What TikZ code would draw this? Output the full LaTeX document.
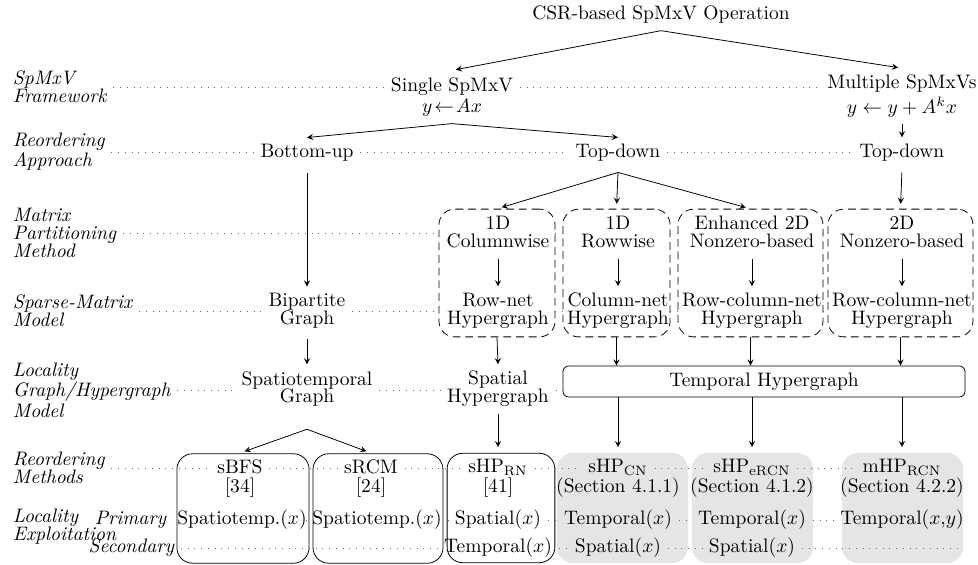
\documentclass[tikz,border=0pt]{standalone}
\usepackage{amsmath}
\usepackage{tikz}
\usetikzlibrary{arrows}

\begin{document}
\begin{tikzpicture}[>=stealth, x=0.018cm, y=-0.018cm,
    every node/.style={font=\fontsize{10}{9.2}\selectfont, align=center}]
			\tikzstyle{rowlab} = [anchor=west, align=left, font=\fontsize{10}{9.2}\selectfont\itshape]
			\tikzstyle{sublab} = [anchor=east, font=\fontsize{10}{9.2}\selectfont\itshape]
			\tikzstyle{methbox} = [draw, rounded corners=8pt, inner sep=0pt, minimum height=1.97cm]
			\tikzstyle{ourbox} = [fill=black!10, rounded corners=8pt, inner sep=0pt, minimum height=1.98cm]
			\tikzstyle{partbox} = [draw, dash pattern=on 4pt off 2.5pt, rounded corners=8pt, inner sep=0pt, minimum height=2.3cm]
			\tikzstyle{rowline} = [black!60, line width=0.45pt, dash pattern=on 0.45pt off 3pt]
			\tikzstyle{fromtxt} = [shorten <=2pt]
			\tikzstyle{tobox} = [shorten >=2.5pt]

			\useasboundingbox (0,0) rectangle (978,564);

			% boxes
			\path
			node[methbox, minimum width=2.38cm] (bfsbox) at (243,508.5) {}
			node[methbox, minimum width=2.34cm] (rcmbox) at (378,508.5) {}
			node[methbox, minimum width=1.94cm] (rnbox) at (501,508) {}
			node[ourbox, minimum width=2.36cm] (cnbox) at (622.5,508) {}
			node[ourbox, minimum width=2.18cm] (ercnbox) at (752.5,508) {}
			node[ourbox, minimum width=2.18cm] (mhpbox) at (902.5,508) {}
			node[partbox, minimum width=2.09cm] (cwbox) at (497,273) {}
			node[partbox, minimum width=1.93cm] (rwbox) at (616.5,273) {}
			node[partbox, minimum width=2.61cm] (enbox) at (750.5,273) {}
			node[partbox, minimum width=2.61cm] (nzbox) at (900.5,273) {}
			node[draw, rounded corners=3pt, minimum width=7.24cm, minimum height=0.56cm] (thyp) at (764,381.5) {Temporal Hypergraph};

			% row labels
			\path
			node[rowlab] (labfw) at (6,87) {SpMxV\\Framework}
			node[rowlab] (labap) at (6,152) {Reordering\\Approach}
			node[rowlab] (labpart) at (6,233) {Matrix\\Partitioning\\Method}
			node[rowlab] (labmod) at (6,311) {Sparse-Matrix\\Model}
			node[rowlab] (labloc) at (6,390) {Locality\\Graph/Hypergraph\\Model}
			node[rowlab] (labmeth) at (6,468) {Reordering\\Methods}
			node[rowlab] (labexp) at (6,527) {Locality\\Exploitation}
			node[sublab] (labpri) at (173,520) {Primary}
			node[sublab] (labsec) at (181,548) {Secondary};

			% tree
			\path
			node (op) at (661,15) {CSR-based SpMxV Operation}
			node (single) at (452,97) {Single SpMxV\\[2pt]$y\!\leftarrow\!Ax$}
			node (multi) at (902,96) {Multiple SpMxVs\\[1pt]$y\leftarrow y+A^kx$}
			node (bu) at (307,153) {Bottom-up}
			node (td) at (618,153) {Top-down}
			node (tdm) at (902,153) {Top-down}
			node (cwp) at (498,232) {1D\\Columnwise}
			node (rwp) at (618,232) {1D\\Rowwise}
			node (enp) at (752,232) {Enhanced 2D\\Nonzero-based}
			node (nzp) at (902,232) {2D\\Nonzero-based}
			node (bip) at (307,311) {Bipartite\\Graph}
			node (cwm) at (498,311) {Row-net\\Hypergraph}
			node (rwm) at (618,311) {Column-net\\Hypergraph}
			node (enm) at (752,311) {Row-column-net\\Hypergraph}
			node (nzm) at (902,311) {Row-column-net\\Hypergraph}
			node (st) at (307,389) {Spatiotemporal\\Graph}
			node (sp) at (498,389) {Spatial\\Hypergraph};

			% reordering methods
			\path
			node (bfs) at (240,467) {sBFS}
			node (bfsref) at (240,488) {[34]}
			node (bfspri) at (242,520) {Spatiotemp.$(x)$}
			node (rcm) at (371,467) {sRCM}
			node (rcmref) at (371,488) {[24]}
			node (rcmpri) at (377,520) {Spatiotemp.$(x)$}
			node (rn) at (498,467) {sHP$_{\mathrm{RN}}$}
			node (rnref) at (498,488) {[41]}
			node (rnpri) at (498,520) {Spatial$(x)$}
			node (rnsec) at (498,548) {Temporal$(x)$}
			node (cn) at (618,467) {sHP$_{\mathrm{CN}}$}
			node (cnref) at (618,488) {(Section 4.1.1)}
			node (cnpri) at (618,520) {Temporal$(x)$}
			node (cnsec) at (618,548) {Spatial$(x)$}
			node (ercn) at (752,467) {sHP$_{\mathrm{eRCN}}$}
			node (ercnref) at (752,488) {(Section 4.1.2)}
			node (ercnpri) at (752,520) {Temporal$(x)$}
			node (ercnsec) at (752,548) {Spatial$(x)$}
			node (mhp) at (902,467) {mHP$_{\mathrm{RCN}}$}
			node (mhpref) at (902,488) {(Section 4.2.2)}
			node (mhppri) at (902,520) {Temporal$(x{,}y)$};
			\coordinate (secend) at (958,548);

			% dotted rows
			\draw[rowline]
			(labfw.east) -- (labfw.east -| single.west)
			(labfw.east -| single.east) -- (labfw.east -| multi.west)
			(labap.east) -- (labap.east -| bu.west)
			(labap.east -| bu.east) -- (labap.east -| td.west)
			(labap.east -| td.east) -- (labap.east -| tdm.west)
			(labpart.east) -- (labpart.east -| cwbox.west)
			(labpart.east -| cwbox.east) -- (labpart.east -| rwbox.west)
			(labpart.east -| rwbox.east) -- (labpart.east -| enbox.west)
			(labpart.east -| enbox.east) -- (labpart.east -| nzbox.west)
			(labmod.east) -- (labmod.east -| bip.west)
			(labmod.east -| bip.east) -- (labmod.east -| cwbox.west)
			(labmod.east -| cwbox.east) -- (labmod.east -| rwbox.west)
			(labmod.east -| rwbox.east) -- (labmod.east -| enbox.west)
			(labmod.east -| enbox.east) -- (labmod.east -| nzbox.west)
			(labloc.east) -- (labloc.east -| st.west)
			(labloc.east -| st.east) -- (labloc.east -| sp.west)
			(labloc.east -| sp.east) -- (labloc.east -| thyp.west)
			(labmeth.east) -- (labmeth.east -| bfs.west)
			(labmeth.east -| bfs.east) -- (labmeth.east -| rcm.west)
			(labmeth.east -| rcm.east) -- (labmeth.east -| rn.west)
			(labmeth.east -| rn.east) -- (labmeth.east -| cn.west)
			(labmeth.east -| cn.east) -- (labmeth.east -| ercn.west)
			(labmeth.east -| ercn.east) -- (labmeth.east -| mhp.west)
			(bfspri.east) -- (rcmpri.west)
			(rcmpri.east) -- (rnpri.west)
			(rnpri.east) -- (cnpri.west)
			(cnpri.east) -- (ercnpri.west)
			(ercnpri.east) -- (mhppri.west)
			(labsec.east) -- (rnsec.west)
			(rnsec.east) -- (cnsec.west)
			(cnsec.east) -- (ercnsec.west)
			(ercnsec.east) -- (secend);

			% arrows
			\path[->]
			(op.south) edge[shorten >=2pt] (single.north)
			(op.south) edge[shorten >=2pt] (multi.north)
			(single.south) edge (bu.north)
			(single.south) edge (td.north)
			(multi.south) edge (tdm.north)
			(bu.south) edge[shorten <=2.5pt] (bip.north)
			([yshift=-2pt]td.south) edge[tobox] (cwbox.north)
			([yshift=-2pt]td.south) edge[tobox] (rwbox.north)
			([yshift=-2pt]td.south) edge[tobox] (enbox.north)
			(tdm.south) edge[fromtxt, tobox] (nzbox.north)
			(cwp.south) edge[fromtxt] (cwm.north)
			(rwp.south) edge[fromtxt] (rwm.north)
			(enp.south) edge[fromtxt] (enm.north)
			(nzp.south) edge[fromtxt] (nzm.north)
			(bip.south) edge[fromtxt] (st.north)
			(cwbox.south) edge (sp.north)
			(rwbox.south) edge (rwbox.south |- thyp.north)
			(enbox.south) edge (enbox.south |- thyp.north)
			(nzbox.south) edge (nzbox.south |- thyp.north)
			([yshift=-8pt]st.south) edge[tobox] (bfs.north)
			([yshift=-8pt]st.south) edge[tobox] (rcm.north)
			(sp.south) edge[tobox] (rn.north)
			(thyp.south -| cn.north) edge[tobox] (cn.north)
			(thyp.south -| ercn.north) edge[tobox] (ercn.north)
			(thyp.south -| mhp.north) edge[tobox] (mhp.north)
			;
\end{tikzpicture}
\end{document}
